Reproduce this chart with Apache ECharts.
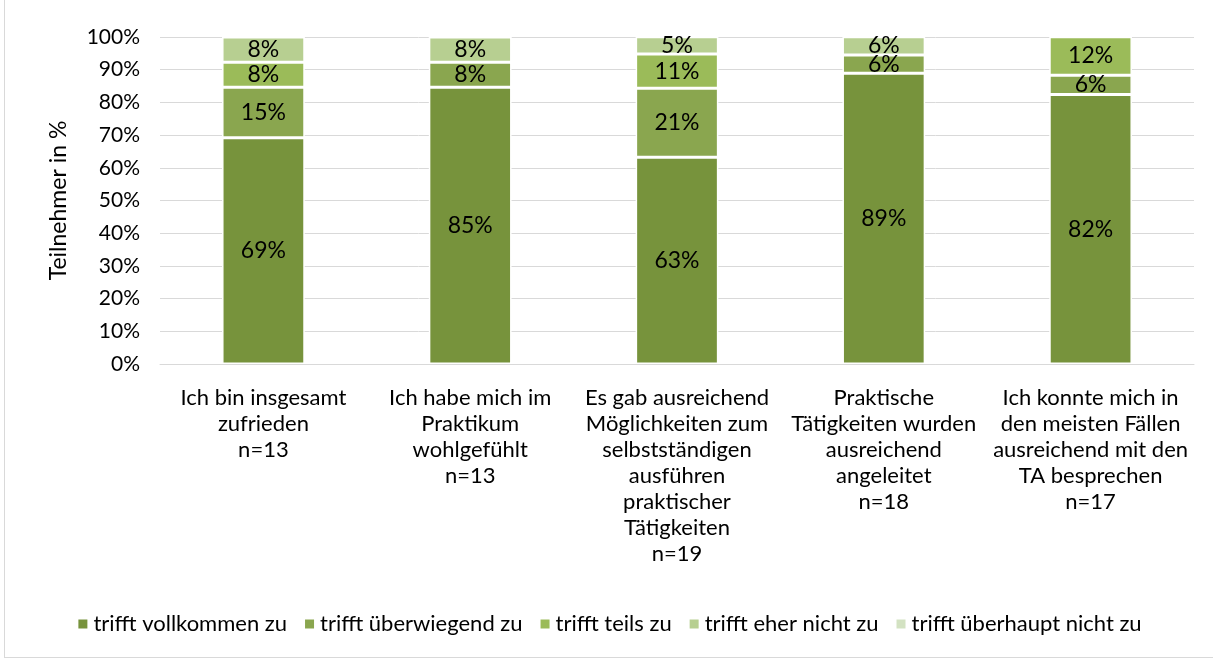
<!DOCTYPE html>
<html>
<head>
<meta charset="utf-8">
<script src="https://cdn.jsdelivr.net/npm/echarts@6/dist/echarts.min.js"></script>
<style>
html,body{margin:0;padding:0;background:#fff;}
#chart{position:absolute;left:4px;top:0;width:1209px;height:658px;border-left:1px solid #d9d9d9;border-bottom:1px solid #d9d9d9;box-sizing:border-box;}
</style>
</head>
<body>
<div id="chart"></div>
<script>
// Kategorien
var categories = [
	"Ich bin insgesamt\nzufrieden\nn=13",
	"Ich habe mich im\nPraktikum\nwohlgefühlt\nn=13",
	"Es gab ausreichend\nMöglichkeiten zum\nselbstständigen\nausführen\npraktischer\nTätigkeiten\nn=19",
	"Praktische\nTätigkeiten wurden\nausreichend\nangeleitet\nn=18",
	"Ich konnte mich in\nden meisten Fällen\nausreichend mit den\nTA besprechen\nn=17"
];
var seriesNames = ["trifft vollkommen zu","trifft überwiegend zu","trifft teils zu","trifft eher nicht zu","trifft überhaupt nicht zu"];
var seriesColors = ["#77933c","#8aa64f","#9bbb59","#b7cf91","#d3e2c2"];
// Werte in %
var vollkommen = [69.2, 84.6, 63.2, 88.9, 82.4];
var ueberwiegend = [15.4, 7.7, 21.1, 5.6, 5.9];
var teils = [7.7, 0, 10.5, 0, 11.8];
var eherNicht = [7.7, 7.7, 5.3, 5.6, 0];
var ueberhauptNicht = [0, 0, 0, 0, 0];
var yTicks = [0,10,20,30,40,50,60,70,80,90,100];

var font = "Lato, 'Open Sans', sans-serif";
var allData = [vollkommen, ueberwiegend, teils, eherNicht, ueberhauptNicht];

var myChart = echarts.init(document.getElementById("chart"));
var series = [];
for (var i = 0; i < allData.length; i++) {
	series.push({
		name: seriesNames[i],
		type: 'bar',
		stack: 'total',
		barWidth: '40%',
		data: allData[i],
		itemStyle: {
			color: seriesColors[i],
			borderColor: '#fff',
			borderWidth: 1.5
		},
		label: {
			show: true,
			position: 'inside',
			color: '#000',
			fontFamily: font,
			fontSize: 23,
			formatter: function(p){
				return p.value > 0 ? Math.round(p.value) + '%' : '';
			}
		}
	});
}

var option = {
	animation: false,
	textStyle: { fontFamily: font },
	grid: { left: 155, right: 19, top: 37, bottom: 293, containLabel: false },
	legend: {
		bottom: 17,
		left: 'center',
		itemWidth: 11,
		itemHeight: 11,
		itemGap: 16,
		icon: 'rect',
		textStyle: { fontFamily: font, fontSize: 22, color: '#000' },
		data: seriesNames
	},
	xAxis: {
		type: 'category',
		data: categories,
		axisTick: { show: false },
		axisLine: { lineStyle: { color: '#d9d9d9', width: 1 } },
		axisLabel: {
			interval: 0,
			margin: 21,
			lineHeight: 26,
			fontSize: 22,
			color: '#000',
			fontFamily: font
		}
	},
	yAxis: {
		type: 'value',
		min: yTicks[0],
		max: yTicks[yTicks.length - 1],
		interval: 10,
		name: 'Teilnehmer in %',
		nameLocation: 'middle',
		nameGap: 90,
		nameTextStyle: { fontSize: 23, color: '#000', fontFamily: font },
		axisLabel: {
			formatter: '{value}%',
			fontSize: 21,
			color: '#000',
			margin: 20,
			fontFamily: font
		},
		splitLine: { lineStyle: { color: '#d9d9d9', width: 1 } }
	},
	series: series
};
myChart.setOption(option);
</script>
</body>
</html>
